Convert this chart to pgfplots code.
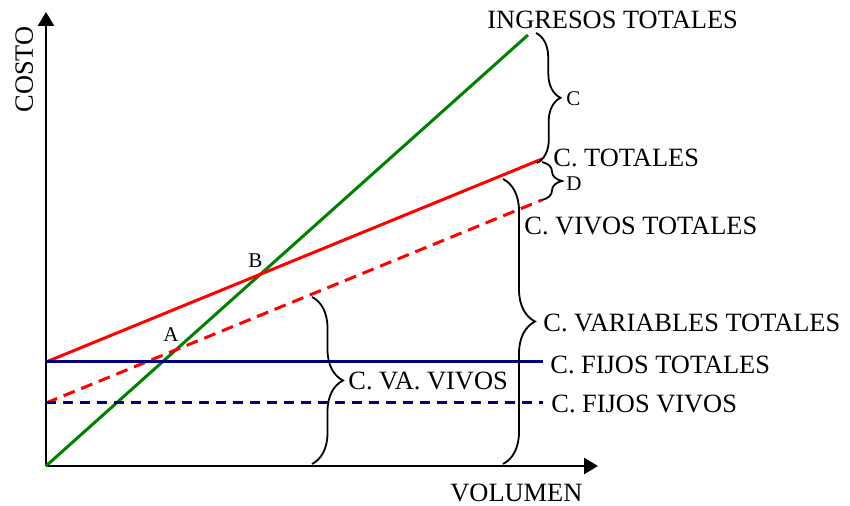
\documentclass[border=0pt]{standalone}
\usepackage{pgfplots}
\pgfplotsset{compat=1.18}
\usepackage{fontspec}
\setmainfont{Liberation Serif}
\usetikzlibrary{arrows.meta,decorations.pathreplacing}

\definecolor{ingreso}{RGB}{0,128,0}
\definecolor{fijo}{RGB}{0,0,128}

\tikzset{
  lbl/.style={anchor=base west, inner sep=0pt, font=\fontsize{13.2}{15}\selectfont},
  small/.style={anchor=base west, inner sep=0pt, font=\fontsize{10.5}{12}\selectfont},
  llave/.style={line width=0.9pt, decorate, decoration={brace, amplitude=#1}},
}

\begin{document}
\begin{tikzpicture}
\begin{axis}[
  x=0.5pt, y=0.5pt,
  xmin=0, xmax=552, ymin=0, ymax=454,
  axis lines=left,
  axis line style={line width=1.4pt, -{Triangle[length=7pt,width=8pt]}},
  ticks=none,
  clip=false,
]
% page frame (850 x 506 px)
\path (axis cs:-46,-40) rectangle (axis cs:804,466);

% ingresos totales
\addplot[ingreso, line width=1.5pt] coordinates {(0,0) (482,431)};
% costos totales
\addplot[red, line width=1.5pt] coordinates {(0,104) (496,307)};
% costos vivos totales
\addplot[red, line width=1.5pt, dash pattern=on 6pt off 3.5pt] coordinates {(0,63) (496,266)};
% costos fijos totales
\addplot[fijo, line width=1.5pt] coordinates {(0,104) (497,104)};
% costos fijos vivos
\addplot[fijo, line width=1.5pt, dash pattern=on 5pt off 3.5pt] coordinates {(0,63) (497,63)};

% braces
\draw[llave=12pt] (axis cs:490,433) -- (axis cs:491,303);
\draw[llave=10pt] (axis cs:496,304) -- (axis cs:496,266);
\draw[llave=16pt] (axis cs:457,287) -- (axis cs:457,2);
\draw[llave=15.5pt] (axis cs:266,169) -- (axis cs:266,2);

% labels
\node[lbl] at (axis cs:441,437) {INGRESOS TOTALES};
\node[lbl] at (axis cs:507,299) {C. TOTALES};
\node[lbl] at (axis cs:478,231) {C. VIVOS TOTALES};
\node[lbl] at (axis cs:497,134) {C. VARIABLES TOTALES};
\node[lbl] at (axis cs:504,92) {C. FIJOS TOTALES};
\node[lbl] at (axis cs:505,53) {C. FIJOS VIVOS};
\node[lbl] at (axis cs:302,76) {C. VA. VIVOS};
\node[lbl] at (axis cs:404,-36) {VOLUMEN};
\node[lbl, rotate=90] at (axis cs:-13,353) {COSTO};

\node[small] at (axis cs:520,360) {C};
\node[small] at (axis cs:520,275) {D};
\node[small] at (axis cs:117,124) {A};
\node[small] at (axis cs:202,198) {B};
\end{axis}
\end{tikzpicture}
\end{document}
